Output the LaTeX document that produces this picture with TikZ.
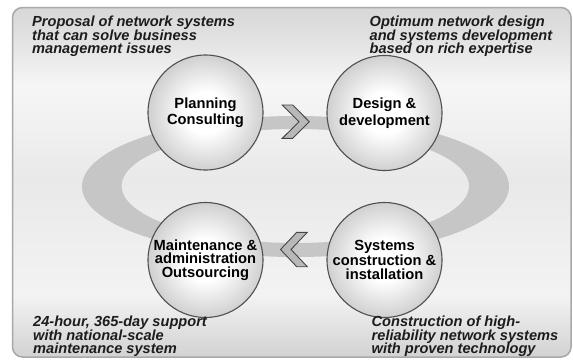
\documentclass[tikz,border=0pt]{standalone}
\usepackage{fontspec}
\setmainfont{Liberation Sans}
\definecolor{band}{HTML}{C6C6C6}
\definecolor{chev}{HTML}{B8B8B8}
\definecolor{chevline}{HTML}{454545}
\definecolor{frame}{HTML}{A8A8A8}
\definecolor{circline}{HTML}{505050}
\definecolor{ink}{HTML}{1C1C1C}
\definecolor{ballEdge}{HTML}{D0D0D0}
\definecolor{bgTop}{HTML}{D8D8D8}
\definecolor{bgT2}{HTML}{DEDEDE}
\definecolor{bgL}{HTML}{F6F6F6}
\definecolor{bgM1}{HTML}{E9E9E9}
\definecolor{bgM2}{HTML}{F3F3F3}
\definecolor{bgBot}{HTML}{D2D2D2}
\pgfdeclareverticalshading{bgshade}{100bp}{color(0bp)=(bgBot); color(25bp)=(bgBot); color(33.9bp)=(bgM2); color(50.3bp)=(bgM1); color(63.9bp)=(bgL); color(71.8bp)=(bgT2); color(75bp)=(bgTop); color(100bp)=(bgTop)}
\pgfdeclareradialshading{ballshade}{\pgfpoint{0bp}{0bp}}{color(0bp)=(white); color(9bp)=(white); color(25bp)=(ballEdge); color(50bp)=(ballEdge)}
\tikzset{
  stage/.style={circle, minimum size=115pt, inner sep=0pt, draw=circline, line width=1.1pt,
    shade, shading=ballshade, align=center, text=black,
    font=\fontsize{14.7}{16.5}\selectfont\bfseries},
  threeline/.style={font=\fontsize{14.7}{13.7}\selectfont\bfseries},
  desc/.style={anchor=north west, inner sep=0pt, align=left, text=ink,
    font=\fontsize{14.6}{13.8}\selectfont\bfseries\itshape},
  chevstyle/.style={fill=chev, draw=chevline, line width=0.9pt, line join=miter}
}
\begin{document}
\begin{tikzpicture}[x=1pt,y=-1pt]
\useasboundingbox (0,0) rectangle (573,359);
\shade[shading=bgshade, draw=frame, line width=1.5pt, rounded corners=10pt] (12.5,7.5) rectangle (571,357);
% ring
\fill[band, even odd rule] (295.5,186.5) ellipse [x radius=213.5, y radius=70.5]
  (295.3,186) ellipse [x radius=173.7, y radius=57];
% chevrons
\filldraw[chevstyle] (282.3,105) -- (292.7,105) -- (309.3,121.7) -- (292.7,138.3) -- (282.3,138.3) -- (299,121.7) -- cycle;
\filldraw[chevstyle] (307.3,232.3) -- (296.7,232.3) -- (280.5,249.5) -- (296.7,266.7) -- (307.3,266.7) -- (291,249.5) -- cycle;
% stages
\node[stage] (plan) at (205.5,112.5) {Planning\\Consulting};
\node[stage] (design) at (384.5,113) {Design \&\\development};
\node[stage, threeline] (maint) at (205.5,260) {Maintenance \&\\administration\\Outsourcing};
\node[stage, threeline] (build) at (384.5,260) {Systems\\construction \&\\installation};
% descriptions
\node[desc] (t1) at (32,15.5) {Proposal of network systems\\that can solve business\\management issues};
\node[desc] (t2) at (369.5,15.5) {Optimum network design\\and systems development\\based on rich expertise};
\node[desc] (t3) at (33,315.5) {24-hour, 365-day support\\with national-scale\\maintenance system};
\node[desc] (t4) at (371.5,315.5) {Construction of high-\\reliability network systems\\with proven technology};
\end{tikzpicture}
\end{document}
